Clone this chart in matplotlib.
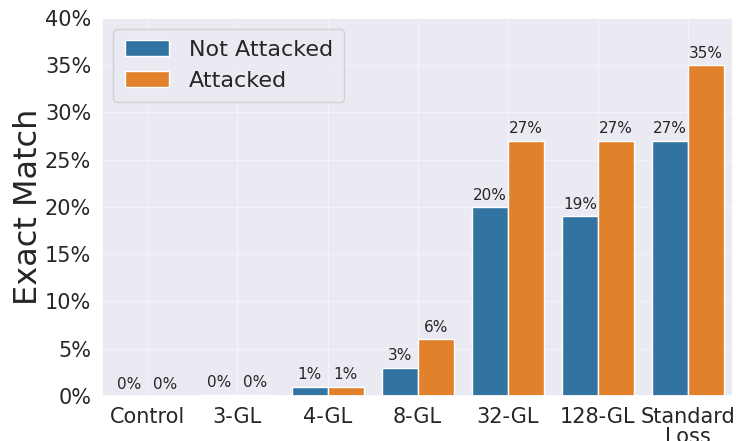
import matplotlib
matplotlib.use("Agg")
import matplotlib.pyplot as plt
import numpy as np
import seaborn as sns
from matplotlib.ticker import FuncFormatter

categories = ["Control", "3-GL", "4-GL", "8-GL", "32-GL", "128-GL", "Standard\nLoss"]
not_attacked = [0.0, 0.15, 1.0, 3.0, 20.0, 19.0, 27.0]
attacked = [0.0, 0.15, 1.0, 6.0, 27.0, 27.0, 35.0]
series_names = ["Not Attacked", "Attacked"]

sns.set_theme(style="darkgrid")
plt.rcParams['font.family'] = ['DejaVu Sans']

fig = plt.figure(figsize=(7.36, 4.41), dpi=100)
ax = fig.add_axes([0.139, 0.102, 0.857, 0.858])

colors = ["#3274a1", "#e1812c"]
x = np.arange(len(categories))
w = 0.4
b1 = ax.bar(x - w / 2, not_attacked, w, color=colors[0], label=series_names[0],
            edgecolor="white", linewidth=1)
b2 = ax.bar(x + w / 2, attacked, w, color=colors[1], label=series_names[1],
            edgecolor="white", linewidth=1)

for bars in (b1, b2):
    labels = [f"{v:.0f}%" for v in bars.datavalues]
    ax.bar_label(bars, labels=labels, padding=3, fontsize=11, color="#262626")

ax.grid(True, color="white", alpha=0.45, linewidth=1)
ax.set_xlim(-0.5, len(categories) - 0.5)
ax.set_ylim(0, 40)
ax.set_yticks(np.arange(0, 41, 5))
ax.yaxis.set_major_formatter(FuncFormatter(lambda v, p: f"{v:.0f}%"))
ax.set_xticks(x)
ax.set_xticklabels(categories, linespacing=1.0)
ax.tick_params(axis="both", labelsize=15, pad=2)
ax.set_ylabel("Exact Match", fontsize=23, labelpad=1)

ax.legend(loc="upper left", fontsize=16, handlelength=2.0, handletextpad=0.9,
          borderpad=0.5)

fig.savefig("out.png", dpi=100)
